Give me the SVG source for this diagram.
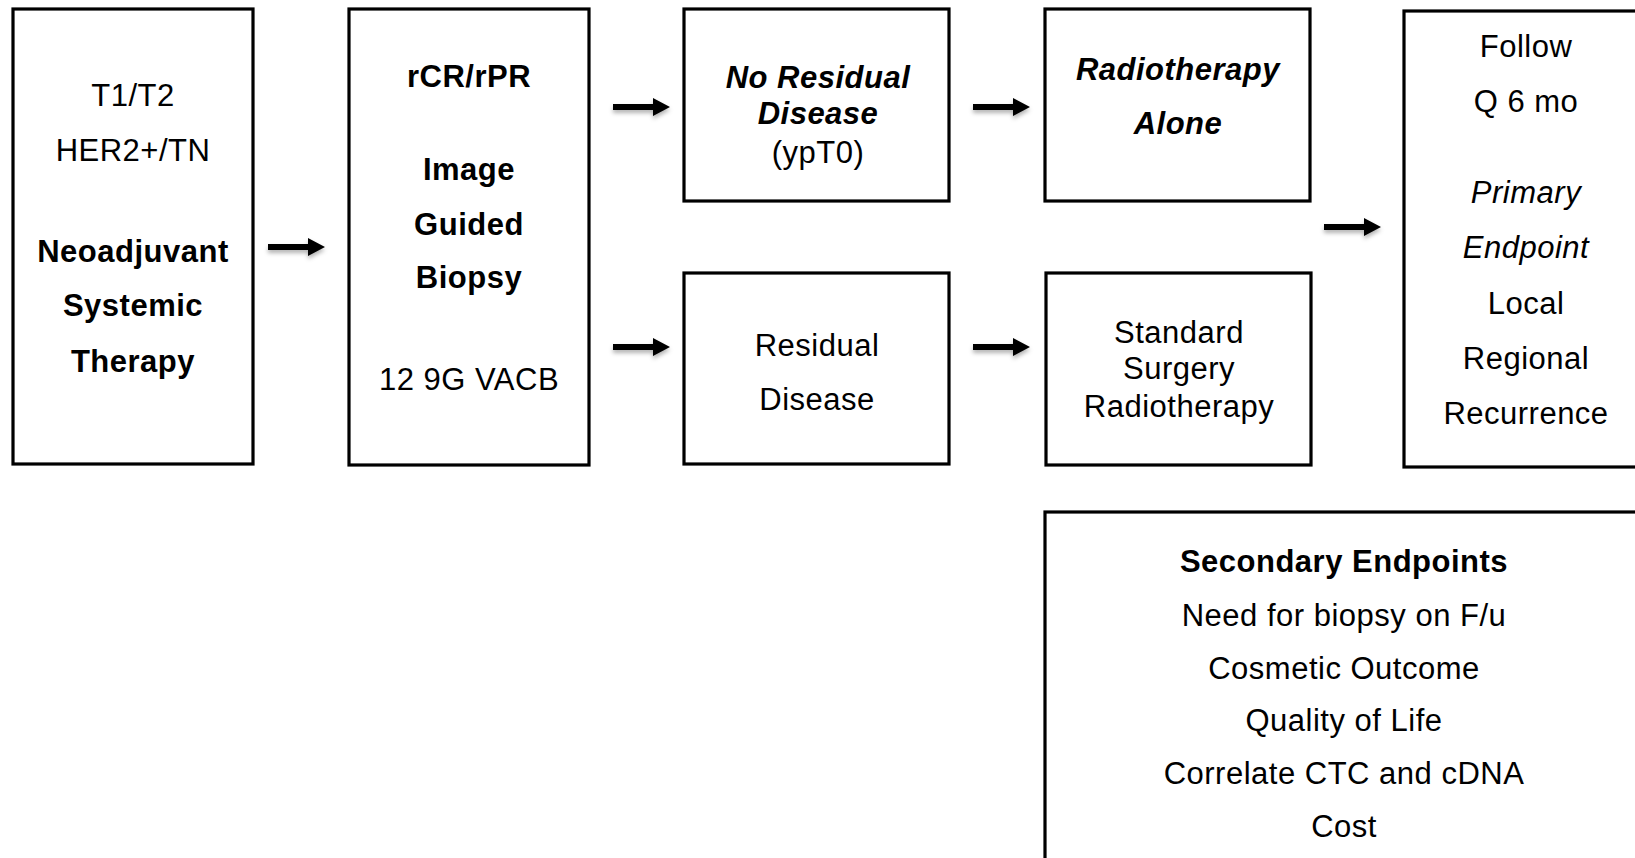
<svg xmlns="http://www.w3.org/2000/svg" width="1635" height="858" viewBox="0 0 1635 858">
<style>
.box{fill:#fff;stroke:#000;stroke-width:3.2}
text{font-family:"Liberation Sans",Arial,sans-serif;font-size:31px;letter-spacing:0.5px;fill:#000;text-anchor:middle}
.b{font-weight:bold}
.i{font-style:italic}
.arrow{fill:#000;filter:url(#sh)}
</style>
<defs>
<filter id="sh" x="-20%" y="-50%" width="140%" height="220%">
<feDropShadow dx="0" dy="3" stdDeviation="2" flood-color="#000" flood-opacity="0.3"/>
</filter>
<path id="arr" d="M0,-3 L40,-3 L40,-9 L57,0 L40,9 L40,3 L0,3 Z"/>
</defs>
<rect width="1635" height="858" fill="#fff"/>
<g id="connectors">
<use href="#arr" class="arrow" x="268" y="247"/>
<use href="#arr" class="arrow" x="613" y="107"/>
<use href="#arr" class="arrow" x="613" y="347"/>
<use href="#arr" class="arrow" x="973" y="107"/>
<use href="#arr" class="arrow" x="973" y="347"/>
<use href="#arr" class="arrow" x="1324" y="227"/>
</g>
<g id="node-neoadjuvant">
<rect class="box" x="13" y="9" width="240" height="455"/>
<text x="133" y="106">T1/T2</text>
<text x="133" y="161">HER2+/TN</text>
<text class="b" x="133" y="262">Neoadjuvant</text>
<text class="b" x="133" y="316">Systemic</text>
<text class="b" x="133" y="372">Therapy</text>
</g>
<g id="node-biopsy">
<rect class="box" x="349" y="9" width="240" height="456"/>
<text class="b" x="469" y="87">rCR/rPR</text>
<text class="b" x="469" y="180">Image</text>
<text class="b" x="469" y="235">Guided</text>
<text class="b" x="469" y="288">Biopsy</text>
<text x="469" y="390">12 9G VACB</text>
</g>
<g id="node-no-residual">
<rect class="box" x="684" y="9" width="265" height="192"/>
<text class="b i" x="818" y="88">No Residual</text>
<text class="b i" x="818" y="124">Disease</text>
<text x="818" y="163">(ypT0)</text>
</g>
<g id="node-residual">
<rect class="box" x="684" y="273" width="265" height="191"/>
<text x="817" y="356">Residual</text>
<text x="817" y="410">Disease</text>
</g>
<g id="node-radiotherapy-alone">
<rect class="box" x="1045" y="9" width="265" height="192"/>
<text class="b i" x="1178" y="80">Radiotherapy</text>
<text class="b i" x="1178" y="134">Alone</text>
</g>
<g id="node-standard">
<rect class="box" x="1046" y="273" width="265" height="192"/>
<text x="1179" y="343">Standard</text>
<text x="1179" y="379">Surgery</text>
<text x="1179" y="417">Radiotherapy</text>
</g>
<g id="node-follow">
<rect class="box" x="1404" y="11" width="300" height="456"/>
<text x="1526" y="57">Follow</text>
<text x="1526" y="112">Q 6 mo</text>
<text class="i" x="1526" y="203">Primary</text>
<text class="i" x="1526" y="258">Endpoint</text>
<text x="1526" y="314">Local</text>
<text x="1526" y="369">Regional</text>
<text x="1526" y="424">Recurrence</text>
</g>
<g id="node-secondary">
<rect class="box" x="1045" y="512" width="700" height="400"/>
<text class="b" x="1344" y="572">Secondary Endpoints</text>
<text x="1344" y="626">Need for biopsy on F/u</text>
<text x="1344" y="679">Cosmetic Outcome</text>
<text x="1344" y="731">Quality of Life</text>
<text x="1344" y="784">Correlate CTC and cDNA</text>
<text x="1344" y="837">Cost</text>
</g>
</svg>
